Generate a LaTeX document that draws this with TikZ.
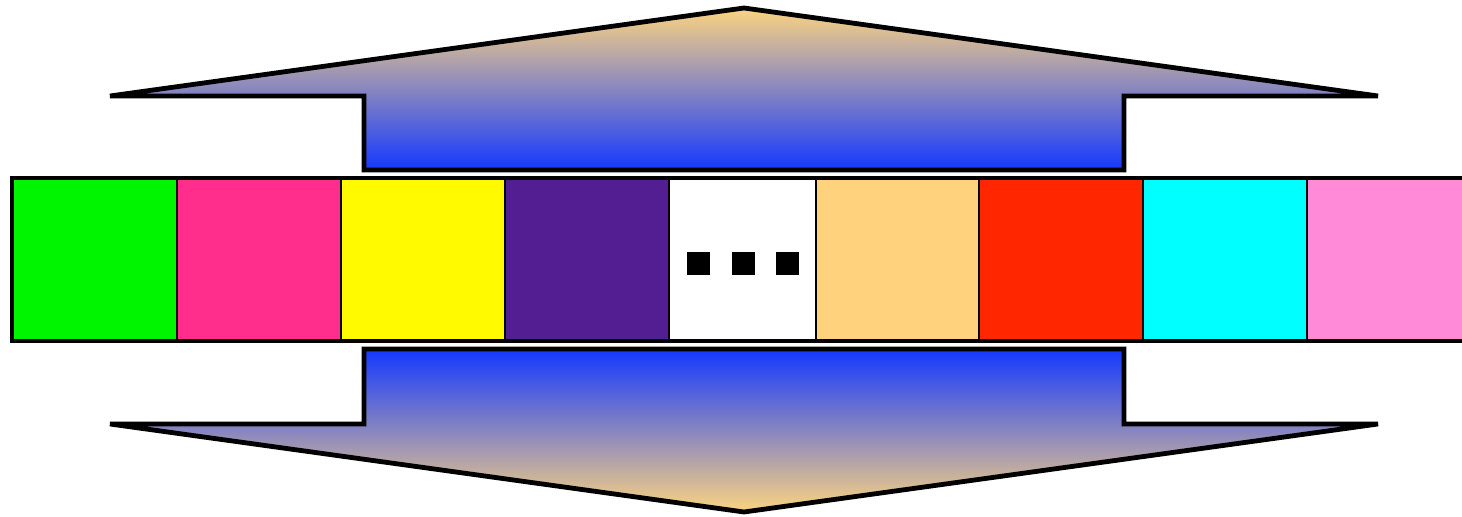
\documentclass[tikz,border=0pt]{standalone}
\begin{document}
\begin{tikzpicture}[x=0.5pt,y=-0.5pt,
  arrowshape/.style={draw=black,line width=2.4pt,line join=miter,top color=tipc,bottom color=shaftc},
  cell/.style={draw=black,line width=1.2pt},
  dot/.style={fill=black}]
\definecolor{tipc}{RGB}{252,212,128}
\definecolor{shaftc}{RGB}{20,56,255}
\definecolor{cgreen}{RGB}{0,245,0}
\definecolor{cpink}{RGB}{255,45,140}
\definecolor{cyellow}{RGB}{255,250,0}
\definecolor{cpurple}{RGB}{82,30,145}
\definecolor{cpeach}{RGB}{255,210,125}
\definecolor{cred}{RGB}{255,38,0}
\definecolor{ccyan}{RGB}{0,255,255}
\definecolor{clpink}{RGB}{255,138,216}
\useasboundingbox (0,0) rectangle (1462,517);
\clip (0,0) rectangle (1462,517);
% top arrow
\shadedraw[arrowshape] (744,8) -- (1378,96) -- (1124,96) -- (1124,170) -- (364,170) -- (364,96) -- (110,96) -- cycle;
% bottom arrow
\shade[top color=shaftc,bottom color=tipc] (744,512) -- (1378,424) -- (1124,424) -- (1124,349) -- (364,349) -- (364,424) -- (110,424) -- cycle;
\draw[line width=2.4pt,line join=miter] (744,512) -- (1378,424) -- (1124,424) -- (1124,349) -- (364,349) -- (364,424) -- (110,424) -- cycle;
% cells
\path[cell,fill=cgreen] (12,178) rectangle (177,341);
\path[cell,fill=cpink] (177,178) rectangle (341,341);
\path[cell,fill=cyellow] (341,178) rectangle (505,341);
\path[cell,fill=cpurple] (505,178) rectangle (669,341);
\path[cell,fill=white] (669,178) rectangle (816,341);
\path[cell,fill=cpeach] (816,178) rectangle (979,341);
\path[cell,fill=cred] (979,178) rectangle (1143,341);
\path[cell,fill=ccyan] (1143,178) rectangle (1307,341);
\path[cell,fill=clpink] (1307,178) rectangle (1480,341);
\draw[line width=2.4pt] (12,178) rectangle (1480,341);
% dots
\fill[dot] (687,252) rectangle (710,275);
\fill[dot] (732,252) rectangle (755,275);
\fill[dot] (776,252) rectangle (799,275);
\end{tikzpicture}
\end{document}
